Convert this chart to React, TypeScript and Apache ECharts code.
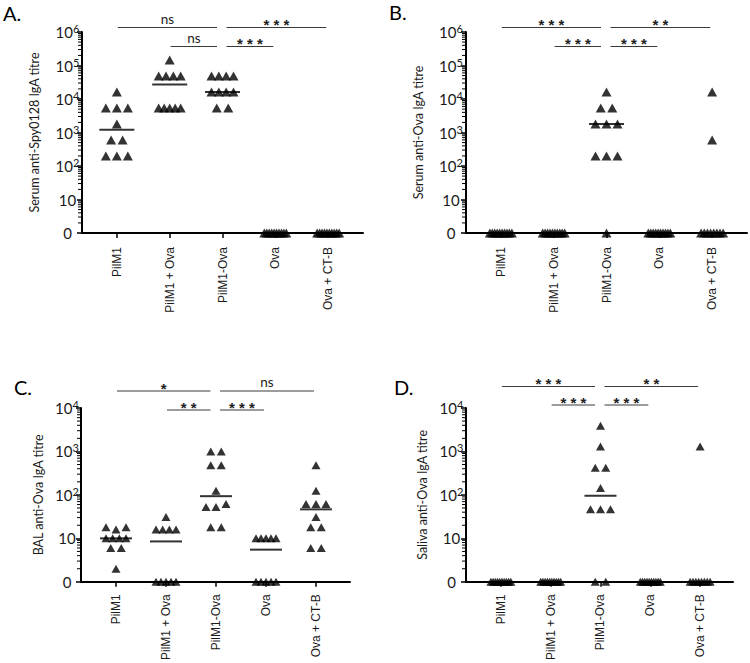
import React, { useEffect, useRef } from 'react';
import * as echarts from 'echarts';

// ---------- data ----------
const categories = ['PilM1', 'PilM1 + Ova', 'PilM1-Ova', 'Ova', 'Ova + CT-B'];
const panelLetters = ['A.', 'B.', 'C.', 'D.'];
const yAxisNames = [
  'Serum anti-Spy0128 IgA titre',
  'Serum anti-Ova IgA titre',
  'BAL anti-Ova IgA titre',
  'Saliva anti-Ova IgA titre',
];
const yMaxExponents = [6, 6, 4, 4];

// A. Serum anti-Spy0128 IgA (0 = not detected)
const aPilM1 = [16200, 5400, 5400, 5400, 1800, 600, 600, 200, 200, 200];
const aPilM1PlusOva = [145800, 48600, 48600, 48600, 48600, 5400, 5400, 5400, 5400, 5400];
const aPilM1Ova = [48600, 48600, 48600, 48600, 16200, 16200, 16200, 16200, 5400, 5400];
const aOva = [0, 0, 0, 0, 0, 0, 0, 0, 0, 0];
const aOvaCTB = [0, 0, 0, 0, 0, 0, 0, 0, 0, 0];

// B. Serum anti-Ova IgA
const bPilM1 = [0, 0, 0, 0, 0, 0, 0, 0, 0, 0];
const bPilM1PlusOva = [0, 0, 0, 0, 0, 0, 0, 0, 0, 0];
const bPilM1Ova = [16200, 5400, 5400, 1800, 1800, 1800, 200, 200, 200, 0];
const bOva = [0, 0, 0, 0, 0, 0, 0, 0, 0, 0];
const bOvaCTB = [16200, 600, 0, 0, 0, 0, 0, 0, 0, 0];

// C. BAL anti-Ova IgA
const cPilM1 = [18, 16, 18, 10, 10, 10, 10, 6, 6, 2];
const cPilM1PlusOva = [31, 16, 16, 16, 16, 0, 0, 0, 0, 0];
const cPilM1Ova = [1000, 1000, 480, 480, 125, 53, 53, 62, 18, 18];
const cOva = [10, 10, 10, 10, 10, 0, 0, 0, 0, 0];
const cOvaCTB = [480, 125, 62, 62, 62, 31, 18, 18, 6, 6];

// D. Saliva anti-Ova IgA
const dPilM1 = [0, 0, 0, 0, 0, 0, 0, 0, 0, 0];
const dPilM1PlusOva = [0, 0, 0, 0, 0, 0, 0, 0, 0, 0];
const dPilM1Ova = [3900, 1300, 420, 420, 145, 47, 47, 47, 0, 0];
const dOva = [0, 0, 0, 0, 0, 0, 0, 0, 0, 0];
const dOvaCTB = [1300, 0, 0, 0, 0, 0, 0, 0, 0];

// significance brackets: [from category, to category, level, label]
const aBrackets: [number, number, number, string][] = [
  [1, 3, 0, 'ns'], [3, 5, 0, '* * *'], [2, 3, 1, 'ns'], [3, 4, 1, '* * *'],
];
const bBrackets: [number, number, number, string][] = [
  [1, 3, 0, '* * *'], [3, 5, 0, '* *'], [2, 3, 1, '* * *'], [3, 4, 1, '* * *'],
];
const cBrackets: [number, number, number, string][] = [
  [1, 3, 0, '*'], [3, 5, 0, 'ns'], [2, 3, 1, '* *'], [3, 4, 1, '* * *'],
];
const dBrackets: [number, number, number, string][] = [
  [1, 3, 0, '* * *'], [3, 5, 0, '* *'], [2, 3, 1, '* * *'], [3, 4, 1, '* * *'],
];

const panelGroups = [
  [aPilM1, aPilM1PlusOva, aPilM1Ova, aOva, aOvaCTB],
  [bPilM1, bPilM1PlusOva, bPilM1Ova, bOva, bOvaCTB],
  [cPilM1, cPilM1PlusOva, cPilM1Ova, cOva, cOvaCTB],
  [dPilM1, dPilM1PlusOva, dPilM1Ova, dOva, dOvaCTB],
];
const panelBrackets = [aBrackets, bBrackets, cBrackets, dBrackets];

// ---------- layout ----------
const layouts = [
  { left: 82, top: 32, width: 281, height: 201, xMin: 0.34, xMax: 5.66, nameGap: 41, rows: [-4.5, 14.5], lx: 3, ly: 13, sym: [10, 9], span: 22, step: 11.5, medW: 35, xMargin: 14, yMargin: 14.5 },
  { left: 466, top: 32, width: 281, height: 201, xMin: 0.34, xMax: 5.66, nameGap: 41, rows: [-4.5, 14.5], lx: 389, ly: 12, sym: [10, 9], span: 22, step: 11.5, medW: 35, xMargin: 14, yMargin: 15 },
  { left: 81, top: 408, width: 269, height: 177, xMin: 0.3, xMax: 5.68, nameGap: 36, rows: [-17, 2], lx: 14, ly: 386.5, sym: [9, 8], span: 20, step: 10.5, medW: 32, xMargin: 12.5, yMargin: 14 },
  { left: 466, top: 408, width: 267, height: 177, xMin: 0.3, xMax: 5.66, nameGap: 37, rows: [-21.5, -3], lx: 394, ly: 386.5, sym: [9, 8], span: 20, step: 10.5, medW: 32, xMargin: 12.5, yMargin: 14.5 },
];

const TEXT = '#1a1a1a';

function spreadOffsets(vals: number[], span: number, step: number): number[] {
  const lv = vals.map((v) => Math.log10(Math.max(v, 1)));
  const order = vals.map((_, i) => i).sort((a, b) => lv[a] - lv[b] || a - b);
  const clusters: number[][] = [];
  order.forEach((idx, n) => {
    if (n > 0 && lv[idx] - lv[order[n - 1]] < 0.12) clusters[clusters.length - 1].push(idx);
    else clusters.push([idx]);
  });
  const out = new Array(vals.length).fill(0);
  clusters.forEach((c) => {
    c.sort((a, b) => a - b);
    const n = c.length;
    const s = n > 1 ? Math.min(step, span / (n - 1)) : 0;
    c.forEach((idx, j) => {
      out[idx] = (j - (n - 1) / 2) * s;
    });
  });
  return out;
}

function median(vals: number[]): number {
  const s = vals.map((v) => Math.max(v, 1)).sort((a, b) => a - b);
  const n = s.length;
  return n % 2 ? s[(n - 1) / 2] : (s[n / 2 - 1] + s[n / 2]) / 2;
}

function buildOption() {
  const catValues = categories.map((_, k) => k + 1);
  const grid: any[] = [];
  const xAxis: any[] = [];
  const yAxis: any[] = [];
  const series: any[] = [];
  const graphic: any[] = [];

  layouts.forEach((l, i) => {
    const maxExp = yMaxExponents[i];
    const yMax = Math.pow(10, maxExp);
    const majors: number[] = [];
    const minors: number[] = [];
    for (let e = 0; e <= maxExp; e++) majors.push(Math.pow(10, e));
    for (let e = 0; e < maxExp; e++) for (let m = 2; m <= 9; m++) minors.push(m * Math.pow(10, e));

    grid.push({ left: l.left, top: l.top, width: l.width, height: l.height });

    xAxis.push({
      type: 'value', gridIndex: i, min: l.xMin, max: l.xMax,
      axisLine: { show: true, onZero: false, lineStyle: { color: '#000', width: 2 } },
      axisTick: { show: true, customValues: catValues, length: 5, lineStyle: { color: '#000', width: 1.5 } },
      axisLabel: {
        show: true, customValues: catValues, rotate: 90, margin: l.xMargin,
        formatter: (v: number) => categories[Math.round(v) - 1] ?? '',
        fontFamily: 'Liberation Sans', fontSize: 12, color: TEXT,
      },
      splitLine: { show: false },
    });

    yAxis.push({
      type: 'log', logBase: 10, gridIndex: i, min: 1, max: yMax, position: 'left',
      name: yAxisNames[i], nameLocation: 'middle', nameGap: l.nameGap,
      nameTextStyle: { fontFamily: 'Lato', fontSize: 12.5, color: TEXT },
      axisLine: { show: true, onZero: false, lineStyle: { color: '#000', width: 2 } },
      axisTick: { show: true, customValues: majors, length: 5, lineStyle: { color: '#000', width: 1.5 } },
      axisLabel: {
        show: true, customValues: majors, align: 'center', margin: l.yMargin,
        fontFamily: 'Lato', fontSize: 15, color: TEXT,
        formatter: (v: number) => {
          const e = Math.round(Math.log(v) / Math.LN10);
          if (e === 0) return '0';
          if (e === 1) return '10';
          return '{b|10}{s|' + e + '}';
        },
        rich: {
          b: { fontFamily: 'Lato', fontSize: 15, lineHeight: 18, color: TEXT },
          s: { fontFamily: 'Lato', fontSize: 11, lineHeight: 11, color: TEXT, verticalAlign: 'top' },
        },
      },
      splitLine: { show: false },
    });

    // minor (logarithmic) ticks on the y axis
    series.push({
      type: 'custom', xAxisIndex: i, yAxisIndex: i, clip: false, silent: true, z: 1,
      encode: { x: 0, y: 1 },
      data: minors.map((v) => [l.xMin, v]),
      renderItem: (_params: any, api: any) => {
        const p = api.coord([api.value(0), api.value(1)]);
        return {
          type: 'line',
          shape: { x1: p[0] - 4, y1: p[1], x2: p[0], y2: p[1] },
          style: { stroke: '#000', lineWidth: 1 },
        };
      },
    });

    const groups = panelGroups[i];
    const points: any[] = [];
    groups.forEach((vals, k) => {
      const offs = spreadOffsets(vals, l.span, l.step);
      vals.forEach((v, j) => {
        points.push({ value: [k + 1, Math.max(v, 1)], symbolOffset: [offs[j], 0] });
      });
    });
    series.push({
      type: 'scatter', xAxisIndex: i, yAxisIndex: i, symbol: 'triangle', symbolSize: l.sym,
      itemStyle: { color: '#000' }, clip: false, z: 3, silent: true, data: points,
    });

    const meds = groups
      .map((vals, k) => [k + 1, median(vals)])
      .filter((d) => d[1] > 1);
    series.push({
      type: 'scatter', xAxisIndex: i, yAxisIndex: i, symbol: 'rect', symbolSize: [l.medW, 2],
      itemStyle: { color: '#000' }, clip: false, z: 4, silent: true, data: meds,
    });

    const brackets = panelBrackets[i];
    series.push({
      type: 'custom', xAxisIndex: i, yAxisIndex: i, clip: false, silent: true, z: 5,
      encode: { x: [0, 2], y: 1 },
      data: brackets.map((b) => [b[0], yMax, b[1]]),
      renderItem: (params: any, api: any) => {
        const b = brackets[params.dataIndex];
        const p1 = api.coord([api.value(0), api.value(1)]);
        const p2 = api.coord([api.value(2), api.value(1)]);
        const y = p1[1] + l.rows[b[2]];
        const x1 = p1[0] + (b[0] === 3 ? 4 : 1);
        const x2 = p2[0] - (b[1] === 3 ? 5.5 : 2);
        const stars = b[3].indexOf('*') >= 0;
        return {
          type: 'group',
          children: [
            { type: 'line', shape: { x1, y1: y, x2, y2: y }, style: { stroke: '#3a3a3a', lineWidth: 1 } },
            {
              type: 'text', x: (x1 + x2) / 2, y: stars ? y - 3 : y - 2,
              style: stars
                ? { text: b[3], fontFamily: 'Liberation Sans', fontWeight: 'bold', fontSize: 15, fill: '#222', align: 'center', verticalAlign: 'middle' }
                : { text: b[3], fontFamily: 'Lato', fontSize: 13.5, fill: '#222', align: 'center', verticalAlign: 'bottom' },
            },
          ],
        };
      },
    });

    graphic.push({
      type: 'text', x: l.lx, y: l.ly,
      style: { text: panelLetters[i], fontFamily: 'Lato', fontSize: 20, fill: '#000', align: 'left', verticalAlign: 'middle' },
    });
  });

  return { animation: false, backgroundColor: '#fff', grid, xAxis, yAxis, series, graphic };
}

export default function App() {
  const ref = useRef<HTMLDivElement>(null);
  useEffect(() => {
    if (!ref.current) return;
    const chart = echarts.init(ref.current, undefined, { renderer: 'svg' });
    chart.setOption(buildOption() as any);
    return () => chart.dispose();
  }, []);
  return <div ref={ref} style={{ position: 'absolute', left: 0, top: 0, width: 750, height: 663 }} />;
}
